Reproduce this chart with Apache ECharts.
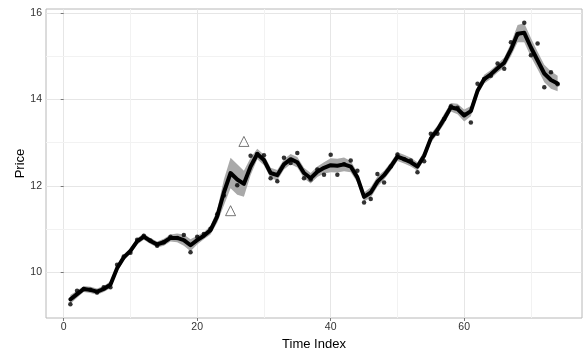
<!DOCTYPE html>
<html>
<head>
<meta charset="utf-8">
<script src="https://cdn.jsdelivr.net/npm/echarts@6/dist/echarts.min.js"></script>
<style>
  html, body { margin: 0; padding: 0; background: #fff; }
  #chart { width: 584px; height: 351px; }
</style>
</head>
<body>
<div id="chart"></div>
<script>
// time index 1..74
const timeIndex = [
  1, 2, 3, 4, 5, 6, 7, 8, 9, 10, 11, 12, 13, 14, 15, 16, 17, 18, 19, 20,
  21, 22, 23, 24, 25, 26, 27, 28, 29, 30, 31, 32, 33, 34, 35, 36, 37, 38, 39, 40,
  41, 42, 43, 44, 45, 46, 47, 48, 49, 50, 51, 52, 53, 54, 55, 56, 57, 58, 59, 60,
  61, 62, 63, 64, 65, 66, 67, 68, 69, 70, 71, 72, 73, 74
]

// observed prices (dots), 25 and 27 are the flagged points
const observed = [
  9.27, 9.58, 9.62, 9.60, 9.54, 9.66, 9.66, 10.18, 10.37, 10.46,
  10.76, 10.85, 10.74, 10.62, 10.70, 10.83, 10.80, 10.87, 10.47, 10.83,
  10.89, 11.01, 11.35, 11.78, null, 12.02, null, 12.70, 12.74, 12.71,
  12.18, 12.11, 12.65, 12.53, 12.76, 12.18, 12.15, 12.38, 12.26, 12.72,
  12.26, 12.50, 12.59, 12.35, 11.62, 11.70, 12.28, 12.08, 12.45, 12.73,
  12.62, 12.59, 12.32, 12.57, 13.21, 13.21, 13.55, 13.84, 13.81, 13.65,
  13.47, 14.36, 14.47, 14.55, 14.83, 14.71, 15.32, 15.50, 15.77, 15.02,
  15.29, 14.28, 14.63, 14.35
]

// smoothed estimate (thick line)
const smoothed = [
  9.38, 9.50, 9.62, 9.60, 9.56, 9.62, 9.72, 10.10, 10.35, 10.50,
  10.72, 10.83, 10.73, 10.65, 10.70, 10.80, 10.80, 10.75, 10.63, 10.75,
  10.85, 10.98, 11.30, 11.85, 12.30, 12.15, 12.05, 12.45, 12.74, 12.60,
  12.30, 12.25, 12.50, 12.62, 12.55, 12.30, 12.18, 12.33, 12.42, 12.48,
  12.47, 12.50, 12.45, 12.20, 11.75, 11.85, 12.10, 12.25, 12.45, 12.68,
  12.62, 12.55, 12.45, 12.70, 13.10, 13.30, 13.55, 13.82, 13.78, 13.63,
  13.73, 14.20, 14.47, 14.58, 14.72, 14.85, 15.15, 15.52, 15.54, 15.20,
  14.90, 14.60, 14.45, 14.37
]

// band lower / upper edges
const bandLow = [
  9.28, 9.42, 9.55, 9.53, 9.49, 9.55, 9.64, 10.02, 10.28, 10.43,
  10.65, 10.76, 10.66, 10.58, 10.62, 10.72, 10.70, 10.62, 10.49, 10.65,
  10.77, 10.88, 11.15, 11.55, 11.95, 11.80, 11.75, 12.25, 12.62, 12.48,
  12.18, 12.13, 12.38, 12.50, 12.43, 12.18, 12.06, 12.21, 12.29, 12.32,
  12.31, 12.34, 12.32, 12.08, 11.65, 11.73, 11.98, 12.15, 12.35, 12.58,
  12.52, 12.45, 12.35, 12.60, 13.00, 13.20, 13.43, 13.72, 13.66, 13.49,
  13.61, 14.10, 14.37, 14.48, 14.62, 14.73, 15.00, 15.32, 15.32, 14.98,
  14.70, 14.40, 14.25, 14.19
]
const bandHigh = [
  9.48, 9.58, 9.69, 9.67, 9.63, 9.69, 9.80, 10.18, 10.42, 10.57,
  10.79, 10.90, 10.80, 10.72, 10.78, 10.88, 10.90, 10.88, 10.77, 10.85,
  10.93, 11.08, 11.45, 12.15, 12.65, 12.50, 12.35, 12.65, 12.86, 12.72,
  12.42, 12.37, 12.62, 12.74, 12.67, 12.42, 12.30, 12.45, 12.55, 12.64,
  12.63, 12.66, 12.58, 12.32, 11.85, 11.97, 12.22, 12.35, 12.55, 12.78,
  12.72, 12.65, 12.55, 12.80, 13.20, 13.40, 13.67, 13.92, 13.90, 13.77,
  13.85, 14.30, 14.57, 14.68, 14.82, 14.97, 15.30, 15.72, 15.76, 15.42,
  15.10, 14.80, 14.65, 14.55
]

// flagged observations (hollow triangles)
const flaggedX = [25, 27]
const flaggedY = [11.43, 13.03]

const xTicks = [0, 20, 40, 60]
const xMinor = [10, 30, 50, 70]
const yTicks = [10, 12, 14, 16]
const yMinor = [11, 13, 15]

const pairs = (ys) => timeIndex.map((x, i) => [x, ys[i]])
const obsPoints = timeIndex.map((x, i) => [x, observed[i]]).filter(p => p[1] !== null)

const chart = echarts.init(document.getElementById('chart'))
const font = 'Liberation Sans, Arial, sans-serif'

// ribbon drawn as one polygon through the axes' own coord()
function renderBand(params, api) {
  if (params.dataIndex !== 0) return null
  const pts = []
  for (let i = 0; i < timeIndex.length; i++) pts.push(api.coord([timeIndex[i], bandHigh[i]]))
  for (let i = timeIndex.length - 1; i >= 0; i--) pts.push(api.coord([timeIndex[i], bandLow[i]]))
  return {
    type: 'polygon',
    shape: { points: pts },
    style: { fill: '#a9a9a9' },
    silent: true
  }
}

chart.setOption({
  animation: false,
  grid: {
    left: 46,
    right: 2,
    top: 9,
    bottom: 33,
    outerBoundsMode: 'none',
    show: true,
    borderColor: '#b8b8b8',
    borderWidth: 1
  },
  xAxis: {
    type: 'value',
    min: -2.65,
    max: 77.65,
    name: 'Time Index',
    nameLocation: 'middle',
    nameGap: 19,
    nameTextStyle: { color: '#000', fontSize: 13, fontFamily: font },
    axisLine: { show: false },
    axisTick: { show: true, customValues: xTicks, length: 3, lineStyle: { color: '#777' } },
    axisLabel: { customValues: xTicks, color: '#333', fontSize: 10.5, fontFamily: font, margin: 4 },
    splitLine: { show: true, lineStyle: { color: '#e6e6e6', width: 1 } }
  },
  yAxis: {
    type: 'value',
    min: 8.95,
    max: 16.09,
    name: 'Price',
    nameLocation: 'middle',
    nameGap: 19,
    nameMoveOverlap: false,
    nameTextStyle: { color: '#000', fontSize: 13, fontFamily: font },
    axisLine: { show: false },
    axisTick: { show: true, customValues: yTicks, length: 3, lineStyle: { color: '#777' } },
    axisLabel: { customValues: yTicks, color: '#333', fontSize: 10.5, fontFamily: font, margin: 4 },
    splitLine: { show: true, lineStyle: { color: '#e6e6e6', width: 1 } }
  },
  series: [
    {
      // minor grid lines
      type: 'line',
      data: [],
      silent: true,
      z: 0,
      markLine: {
        silent: true,
        symbol: 'none',
        z: 0,
        label: { show: false },
        animation: false,
        lineStyle: { color: '#f2f2f2', width: 1, type: 'solid' },
        data: xMinor.map(v => ({ xAxis: v })).concat(yMinor.map(v => ({ yAxis: v })))
      }
    },
    {
      type: 'custom',
      renderItem: renderBand,
      data: [[timeIndex[0], bandLow[0]]],
      clip: true,
      z: 2
    },
    {
      type: 'line',
      data: pairs(smoothed),
      symbol: 'none',
      z: 3,
      lineStyle: { color: '#000', width: 4, join: 'round', cap: 'round' }
    },
    {
      type: 'scatter',
      data: obsPoints,
      symbolSize: 4.5,
      z: 4,
      itemStyle: { color: '#000' }
    },
    {
      type: 'scatter',
      data: flaggedX.map((x, i) => [x, flaggedY[i]]),
      symbol: 'triangle',
      symbolSize: 10,
      z: 4,
      itemStyle: { color: 'rgba(255,255,255,0)', borderColor: '#555', borderWidth: 1 }
    }
  ]
})
</script>
</body>
</html>
